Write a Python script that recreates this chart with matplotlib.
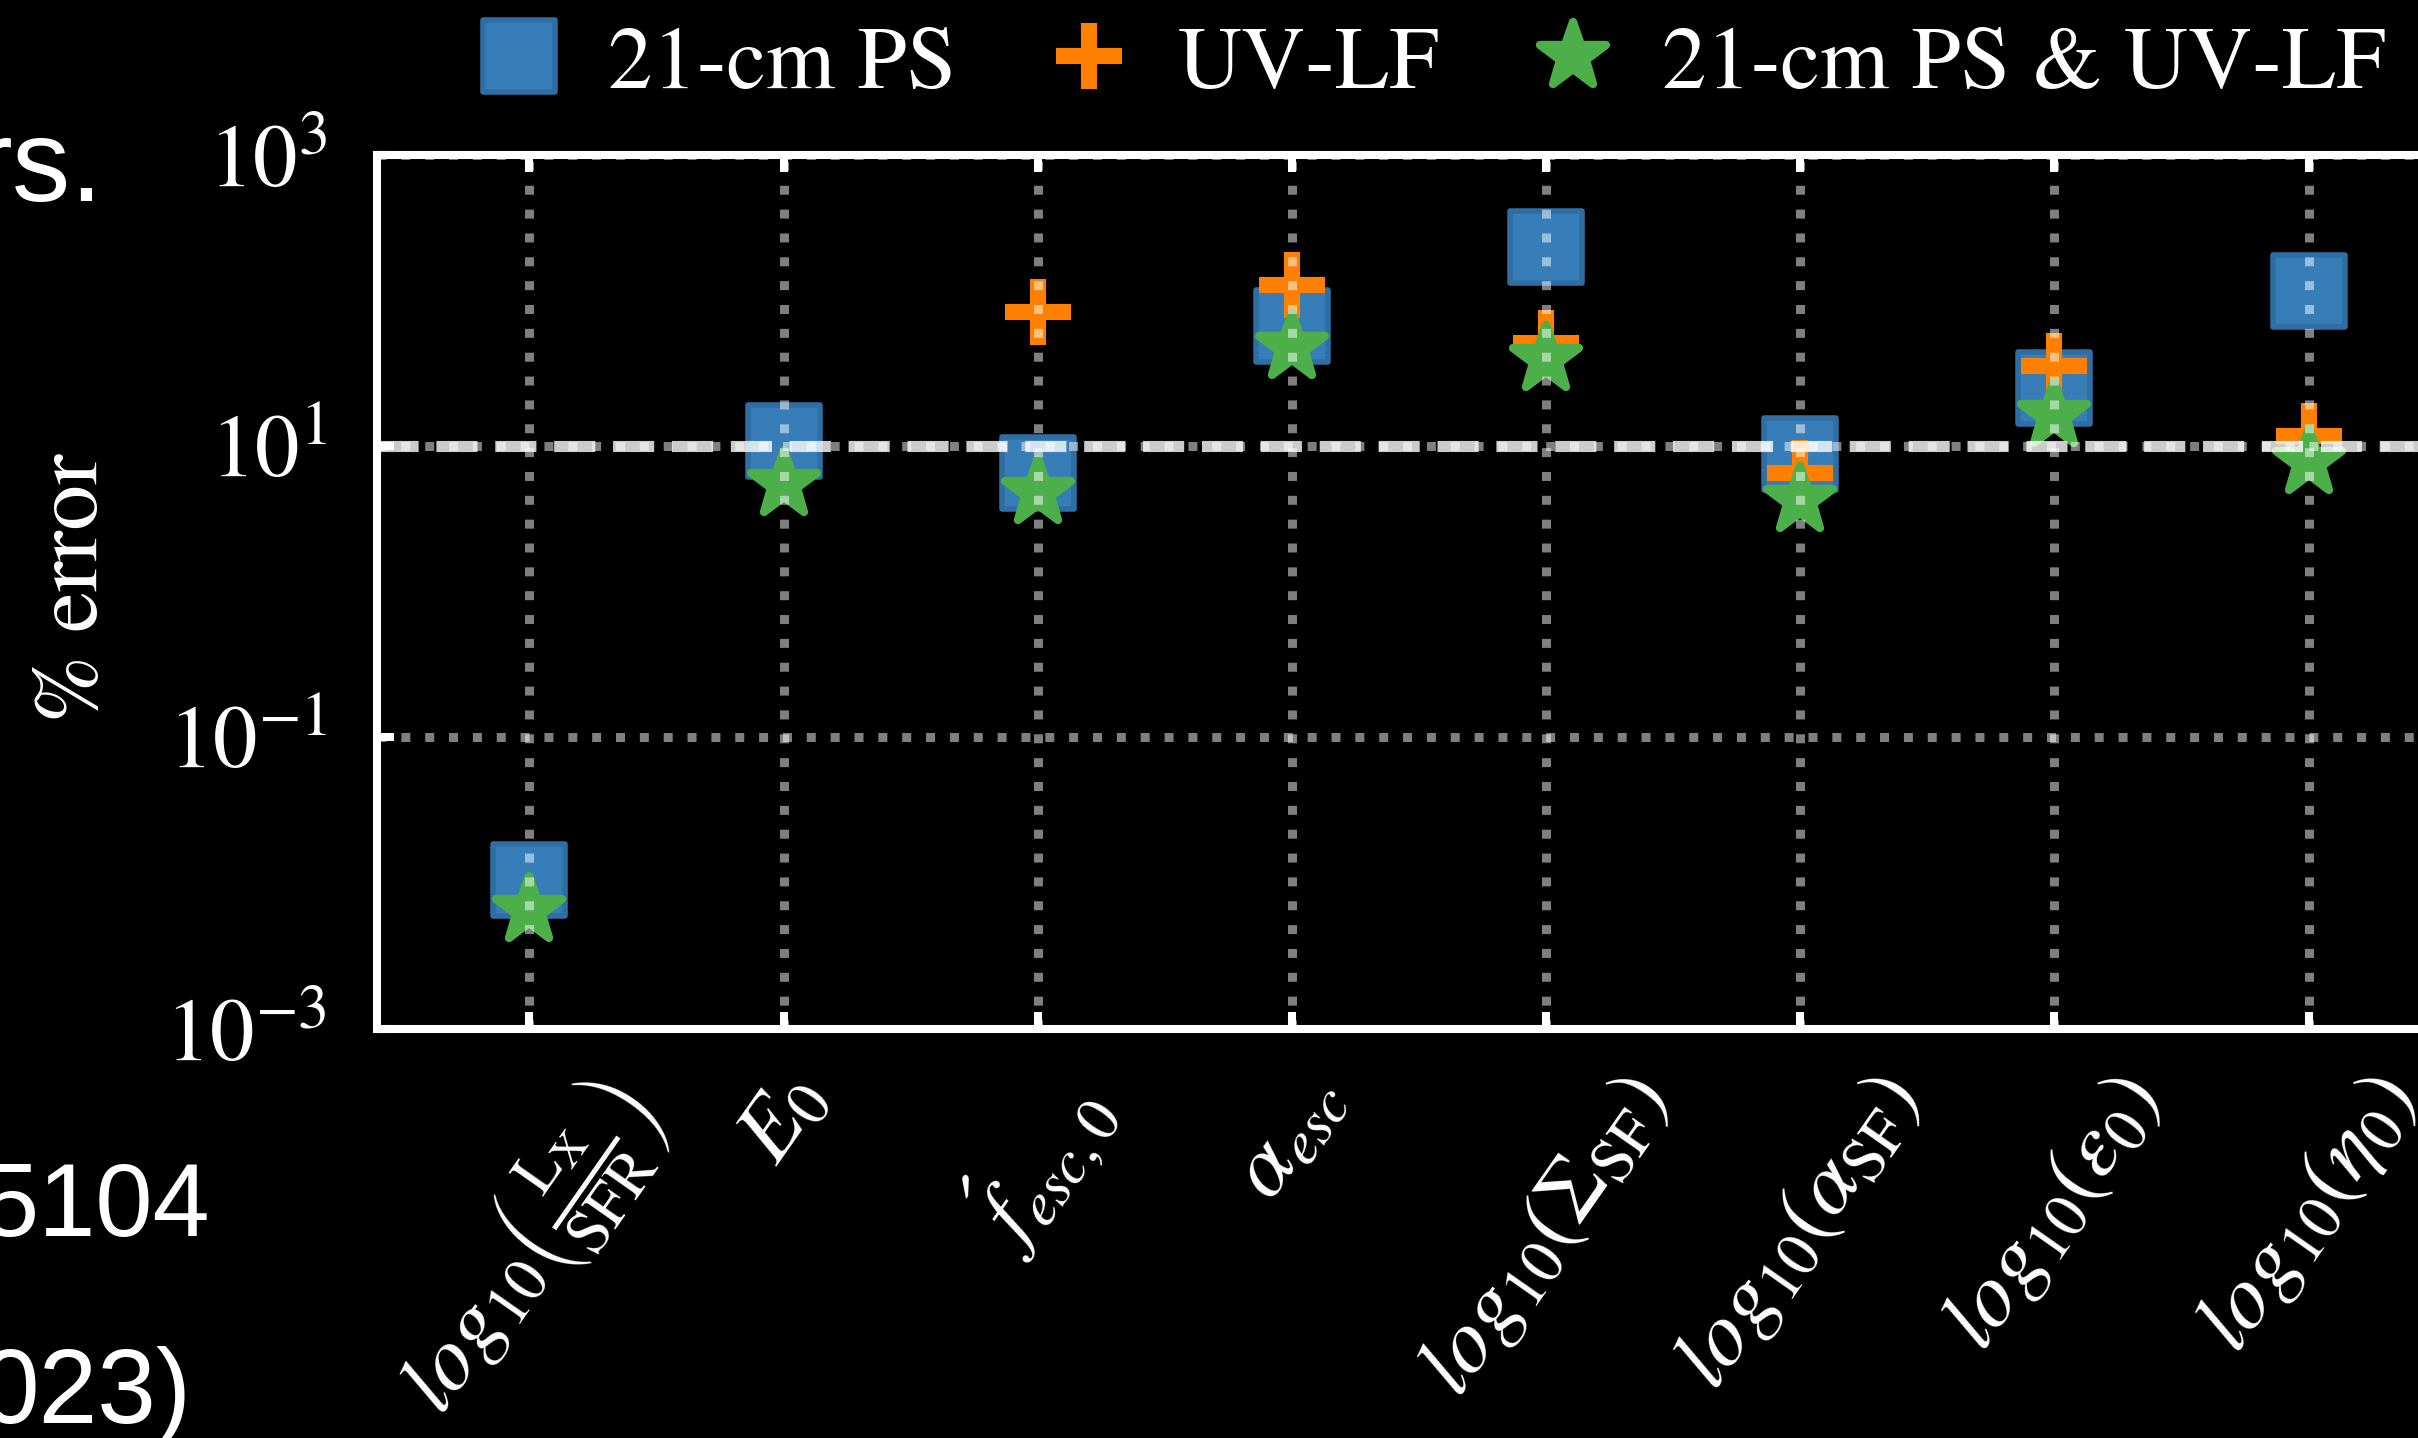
import numpy as np
import matplotlib
matplotlib.use("Agg")
import matplotlib.pyplot as plt
from matplotlib.markers import MarkerStyle
from matplotlib.ticker import NullLocator

# Parameter labels (x axis)
params = [
    r"$log_{10}\left(\frac{\mathrm{L_X}}{\mathrm{SFR}}\right)$",
    r"$E_0$",
    r"$\acute{f}_{esc,0}$",
    r"$\alpha_{esc}$",
    r"$log_{10}(\Sigma_{\rm SF})$",
    r"$log_{10}(\alpha_{\rm SF})$",
    r"$log_{10}(\varepsilon_0)$",
    r"$log_{10}(\eta_0)$",
]

# Percentage error on each parameter
err_21cm = [0.0105, 10.8, 6.5, 66.8, 233.0, 8.85, 25.1, 116.7]
err_uvlf = [np.nan, np.nan, 83.0, 127.0, 51.0, 6.58, 35.7, 11.8]
err_joint = [0.0065, 5.5, 4.86, 47.9, 39.6, 4.27, 16.4, 7.8]

series_labels = ["21-cm PS", "UV-LF", "21-cm PS & UV-LF"]
yticks = [1e-3, 1e-1, 1e1, 1e3]

plt.rcParams["font.family"] = "STIXGeneral"
plt.rcParams["mathtext.fontset"] = "stix"

W, H, DPI = 2418, 1438, 200
fig = plt.figure(figsize=(W / DPI, H / DPI), dpi=DPI, facecolor="black")

# axes extends past the right edge of the canvas
left, right, bottom, top = 377, 2461, 1028.5, 155
ax = fig.add_axes([left / W, 1 - bottom / H, (right - left) / W, (bottom - top) / H])
ax.set_facecolor("black")

x = np.arange(len(params))

sq = MarkerStyle("s", joinstyle="round")
star = MarkerStyle("*", joinstyle="round")

ax.plot(x, err_21cm, ls="none", marker=sq, ms=25.7, mew=2.0,
        mfc="#377eb8", mec="#2f6ea3", label=series_labels[0], zorder=2)
ax.plot(x, err_uvlf, ls="none", marker="+", ms=23.8, mew=5.8,
        color="#ff7f00", label=series_labels[1], zorder=2)
ax.plot(x, err_joint, ls="none", marker=star, ms=24.8, mew=3.0,
        mfc="#4daf4a", mec="#4daf4a", label=series_labels[2], zorder=2)

ax.axhline(10, color="white", alpha=0.8, lw=4, ls="--", zorder=3)

ax.set_yscale("log")
ax.set_xlim(-0.6, 7.6)
ax.set_ylim(1e-3, 1e3)
ax.set_yticks(yticks)
ax.yaxis.set_minor_locator(NullLocator())
ax.set_xticks(x)
ax.set_xticklabels(params, rotation=55, ha="center")

ax.set_axisbelow(False)
ax.grid(True, which="major", color="white", alpha=0.5, ls=":", lw=3.24)

for sp in ax.spines.values():
    sp.set_color("white")
    sp.set_linewidth(2.9)

ax.tick_params(axis="both", which="major", direction="in", length=6, width=2.9,
               color="white", labelcolor="white", labelsize=32,
               top=True, right=True)
ax.tick_params(axis="x", pad=12)
ax.tick_params(axis="y", pad=18)

fig.text(76 / W, 1 - 588 / H, "% error", rotation=90, ha="center", va="center",
         color="white", fontsize=33)

leg = fig.legend(loc="center", bbox_to_anchor=(1430 / W, 1 - 66 / H), ncol=3,
                 frameon=False, fontsize=32, labelcolor="white",
                 handlelength=1.0, handletextpad=0.5, columnspacing=1.0,
                 numpoints=1)

# slide text around the figure
fig.text(103 / W, 1 - 201 / H, "rs.", ha="right", va="baseline", color="white",
         fontsize=42, family="Liberation Sans")
fig.text(210 / W, 1 - 1236 / H, "5104", ha="right", va="baseline", color="white",
         fontsize=37, family="Liberation Sans")
fig.text(192 / W, 1 - 1423 / H, "023)", ha="right", va="baseline", color="white",
         fontsize=38, family="Liberation Sans")

fig.savefig("out.png", dpi=DPI, facecolor="black")
